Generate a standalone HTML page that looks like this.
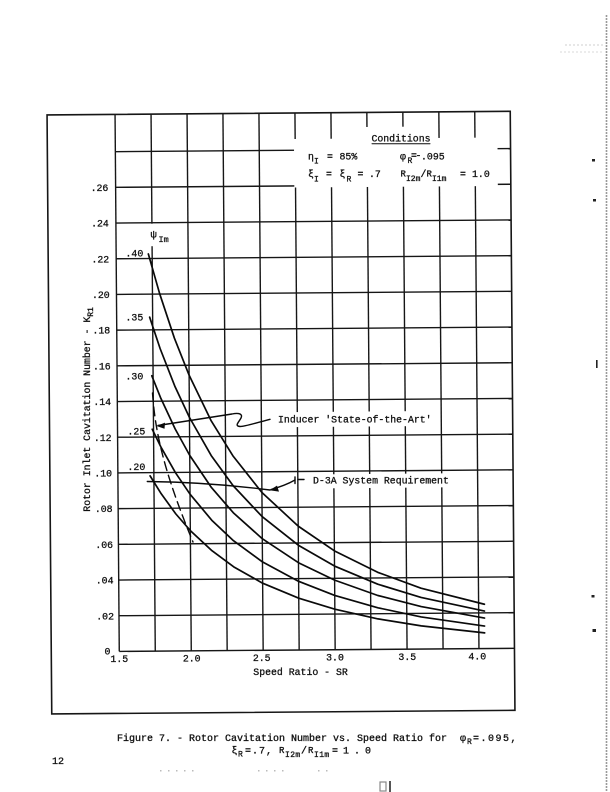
<!DOCTYPE html>
<html><head><meta charset="utf-8"><style>
html,body{margin:0;padding:0;background:#fff;}
svg{display:block;}
text{font-family:"Liberation Mono","DejaVu Sans Mono",monospace;fill:#111;stroke:#111;stroke-width:0.3px;}
</style></head><body>
<svg width="610" height="792" viewBox="0 0 610 792" xmlns="http://www.w3.org/2000/svg">
<rect width="610" height="792" fill="#fff"/>
<g transform="rotate(-0.45 300 400)" fill="none" stroke="#161616">
  <rect x="49.3" y="113" width="463.2" height="599" stroke-width="1.6"/>
  <g stroke-width="1.4">
    <line x1="117.3" y1="113" x2="117.3" y2="650"/>
    <line x1="117.3" y1="650" x2="512.5" y2="650"/>
    <line x1="153.3" y1="113" x2="153.3" y2="650"/>
    <line x1="189.3" y1="113" x2="189.3" y2="650"/>
    <line x1="225.2" y1="113" x2="225.2" y2="650"/>
    <line x1="261.2" y1="113" x2="261.2" y2="650"/>
    <line x1="297.2" y1="113" x2="297.2" y2="650"/>
    <line x1="333.2" y1="113" x2="333.2" y2="650"/>
    <line x1="369.1" y1="113" x2="369.1" y2="650"/>
    <line x1="405.1" y1="113" x2="405.1" y2="650"/>
    <line x1="441.1" y1="113" x2="441.1" y2="650"/>
    <line x1="477.0" y1="113" x2="477.0" y2="650"/>
    <line x1="117.3" y1="614.3" x2="512.5" y2="614.3"/>
    <line x1="117.3" y1="578.6" x2="512.5" y2="578.6"/>
    <line x1="117.3" y1="542.9" x2="512.5" y2="542.9"/>
    <line x1="117.3" y1="507.2" x2="512.5" y2="507.2"/>
    <line x1="117.3" y1="471.5" x2="512.5" y2="471.5"/>
    <line x1="117.3" y1="435.8" x2="512.5" y2="435.8"/>
    <line x1="117.3" y1="400.1" x2="512.5" y2="400.1"/>
    <line x1="117.3" y1="364.4" x2="512.5" y2="364.4"/>
    <line x1="117.3" y1="328.7" x2="512.5" y2="328.7"/>
    <line x1="117.3" y1="293.0" x2="512.5" y2="293.0"/>
    <line x1="117.3" y1="257.3" x2="512.5" y2="257.3"/>
    <line x1="117.3" y1="221.6" x2="512.5" y2="221.6"/>
    <line x1="117.3" y1="185.9" x2="512.5" y2="185.9"/>
    <line x1="117.3" y1="150.2" x2="512.5" y2="150.2"/>
  </g>
  <g fill="#fff" stroke="none">
    <rect x="296" y="139" width="203.5" height="48.5"/>
    <rect x="347" y="127.5" width="88" height="13"/>
    <rect x="147" y="222.6" width="28" height="22.5"/>
    <rect x="275" y="412" width="159" height="15"/>
    <rect x="307" y="474.5" width="145" height="14"/>
  </g>
  <g stroke="#0a0a0a" stroke-width="1.7" stroke-linejoin="round" stroke-linecap="round">
    <polyline points="149.5,252.8 160.5,292.6 174.9,337.2 189.3,374.3 210.8,419.7 232.4,455.2 261.2,492.2 297.2,526.1 333.2,551.1 376.3,572.9 419.5,589.1 482.8,605.7"/>
    <polyline points="150.3,316.0 160.5,347.4 174.9,385.1 189.3,416.5 210.8,454.9 232.4,485.1 261.2,516.3 297.2,545.2 333.2,566.3 376.3,584.8 419.5,598.4 482.8,612.5"/>
    <polyline points="152.0,374.6 160.5,396.4 174.9,427.9 189.3,454.5 210.8,486.9 232.4,512.2 261.2,538.4 297.2,562.7 333.2,580.4 376.3,596.1 419.5,607.5 482.8,619.5"/>
    <polyline points="152.0,428.1 160.5,445.8 174.9,471.7 189.3,493.3 210.8,519.5 232.4,540.2 261.2,561.6 297.2,581.3 333.2,595.7 376.3,608.4 419.5,617.9 482.8,627.5"/>
    <polyline points="149.5,474.7 160.5,492.7 174.9,512.9 189.3,529.7 210.8,550.0 232.4,566.3 261.2,582.9 297.2,598.2 333.2,609.5 376.3,619.5 419.5,626.8 482.8,634.3"/>
  </g>
</g>

<!-- annotations -->
<g fill="none" stroke="#0a0a0a" stroke-width="1.4" stroke-linecap="round">
  <path d="M152.5,393 C155,430 163,470 193,542" stroke-dasharray="9,5"/>
  <path d="M158,425.5 L232,414 C239,412.5 243,414 241,418 C239,422 234,426 240,426.5 C245,426.5 250,424.5 270,419.3"/>
  <path d="M147.3,481.5 C190,482 232,485 270,490"/>
  <path d="M271,489.5 C280,487 288,484 295,480"/>
  <path d="M295,477 L295,483.5"/>
  <path d="M298,479.5 L304,479.5"/>
  <path d="M372,143.8 L430,143.8" stroke-width="1"/>
</g>
<path d="M156.5,426 L165,422.6 L164.5,428.8 Z" fill="#0a0a0a"/>
<path d="M269.5,490.3 L277,485.6 L279,491.6 Z" fill="#0a0a0a"/>

<!-- y tick labels -->
<g font-size="9.85" text-anchor="end">
  <text x="108.3" y="190.9">.26</text>
  <text x="108.8" y="226.6">.24</text>
  <text x="109.2" y="262.3">.22</text>
  <text x="109.7" y="298.0">.20</text>
  <text x="110.2" y="333.7">.18</text>
  <text x="110.7" y="369.4">.16</text>
  <text x="111.1" y="405.1">.14</text>
  <text x="111.6" y="440.8">.12</text>
  <text x="112.1" y="476.5">.10</text>
  <text x="112.6" y="512.2">.08</text>
  <text x="113.1" y="547.9">.06</text>
  <text x="113.5" y="583.6">.04</text>
  <text x="114.0" y="619.3">.02</text>
</g>
<text x="107.5" y="654.5" font-size="9.85" text-anchor="middle">0</text>
<!-- x tick labels -->
<g font-size="9.85" text-anchor="middle">
  <text x="119.3" y="662">1.5</text>
  <text x="191.7" y="661.7">2.0</text>
  <text x="261.7" y="661">2.5</text>
  <text x="335" y="660.5">3.0</text>
  <text x="407.3" y="660">3.5</text>
  <text x="477.3" y="659.5">4.0</text>
</g>
<text x="253.3" y="675" font-size="9.85">Speed Ratio - SR</text>
<text transform="translate(90,511.7) rotate(-90)" font-size="9.85">Rotor Inlet Cavitation Number - K<tspan dy="3" font-size="8">R1</tspan></text>

<!-- curve labels -->
<g font-size="9.85">
  <text x="125.5" y="256.5">.40</text>
  <text x="125.5" y="320.5">.35</text>
  <text x="125.5" y="379.5">.30</text>
  <text x="127.5" y="434.5">.25</text>
  <text x="127.5" y="470">.20</text>
  <text x="150.5" y="237.5" font-size="10.5">ψ</text>
  <text x="158.5" y="242" font-size="8.5">Im</text>
  <text x="278" y="422.5">Inducer 'State-of-the-Art'</text>
  <text x="313" y="483.5">D-3A System Requirement</text>
</g>

<!-- conditions -->
<g font-size="9.85">
  <text x="401" y="141.5" text-anchor="middle">Conditions</text>
  <text x="308" y="159.5">η</text>
  <text x="314" y="163.5" font-size="8">I</text>
  <text x="327" y="159.5">=</text>
  <text x="339.5" y="159.5">85%</text>
  <text x="400" y="159.5">φ</text>
  <text x="407.5" y="163" font-size="8">R</text>
  <text x="411" y="158.5">=</text>
  <text x="415.5" y="158.5">-</text>
  <text x="421" y="159.5">.095</text>
  <text x="308" y="177">ξ</text>
  <text x="314" y="181.5" font-size="8">I</text>
  <text x="326" y="177">=</text>
  <text x="339.5" y="177">ξ</text>
  <text x="346.5" y="181.5" font-size="8">R</text>
  <text x="357.5" y="177">=</text>
  <text x="369" y="177">.7</text>
  <text x="400.5" y="176.5" font-size="9">R</text>
  <text x="406" y="181" font-size="8">I2m</text>
  <text x="420.5" y="177">/</text>
  <text x="426.5" y="176.5" font-size="9">R</text>
  <text x="432" y="181" font-size="8">I1m</text>
  <text x="460" y="177">=</text>
  <text x="472" y="177">1.0</text>
</g>

<!-- caption -->
<g font-size="10">
  <text x="117" y="741">Figure 7. - Rotor Cavitation Number vs. Speed Ratio for</text>
  <text x="460" y="741">φ</text>
  <text x="467" y="744" font-size="8">R</text>
  <text x="473" y="741" letter-spacing="1.5">=.095,</text>
  <text x="231.5" y="753.5">ξ</text>
  <text x="238" y="756.5" font-size="8">R</text>
  <text x="245" y="753.5" letter-spacing="1">=.7,</text>
  <text x="279" y="753" font-size="9">R</text>
  <text x="285" y="757" font-size="8" letter-spacing="0.4">I2m</text>
  <text x="301" y="753.5">/</text>
  <text x="308" y="753" font-size="9">R</text>
  <text x="314" y="757" font-size="8" letter-spacing="0.4">I1m</text>
  <text x="332" y="753.5" letter-spacing="5">=1.0</text>
  <text x="52" y="764">12</text>
</g>

<!-- page artifacts -->
<line x1="606.5" y1="15" x2="606.5" y2="792" stroke="#9a9a9a" stroke-width="1.6" stroke-dasharray="2,1"/>
<line x1="565" y1="45" x2="604" y2="45" stroke="#cfcfcf" stroke-width="1" stroke-dasharray="2,2"/>
<line x1="560" y1="52" x2="604" y2="52" stroke="#d8d8d8" stroke-width="1" stroke-dasharray="2,2"/>
<g fill="#222">
  <rect x="592" y="159" width="3" height="2.5"/>
  <rect x="593" y="199" width="3" height="2.5"/>
  <rect x="596" y="360" width="1.6" height="8"/>
  <rect x="591.5" y="595" width="3" height="2.5"/>
  <rect x="592.5" y="629" width="3.5" height="3"/>
</g>
<g fill="#bbb">
  <rect x="160" y="770" width="1.5" height="1.5"/><rect x="168" y="770" width="1.5" height="1.5"/>
  <rect x="176" y="770" width="1.5" height="1.5"/><rect x="184" y="770" width="1.5" height="1.5"/>
  <rect x="192" y="770" width="1.5" height="1.5"/><rect x="258" y="770" width="1.5" height="1.5"/>
  <rect x="266" y="770" width="1.5" height="1.5"/><rect x="274" y="770" width="1.5" height="1.5"/>
  <rect x="282" y="770" width="1.5" height="1.5"/><rect x="318" y="770" width="1.5" height="1.5"/>
  <rect x="326" y="770" width="1.5" height="1.5"/>
</g>
<rect x="380" y="782" width="6" height="9" fill="none" stroke="#888" stroke-width="1.2"/>
<rect x="389" y="781" width="2" height="11" fill="#555"/>
</svg>
</body></html>
